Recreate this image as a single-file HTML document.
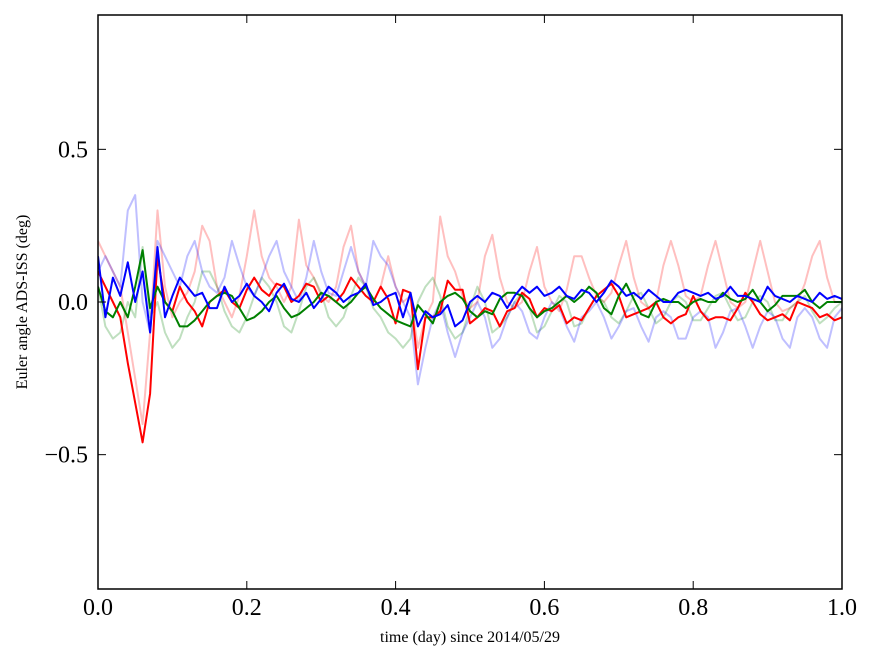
<!DOCTYPE html>
<html><head><meta charset="utf-8"><style>
body{margin:0;background:#fff;}
svg text{font-family:"Liberation Serif",serif;}
</style></head><body>
<svg id="chart" width="875" height="662" viewBox="0 0 875 662"></svg>
<script>
const tValues=[];for(let i=0;i<=100;i++)tValues.push(i/100);
const redMain=[0.1,0.05,0.0,-0.05,-0.2,-0.33,-0.46,-0.3,0.15,0.0,-0.03,0.05,0.0,-0.03,-0.08,0.0,0.02,0.04,0.0,-0.02,0.04,0.08,0.04,0.02,0.06,0.05,0.0,0.02,0.06,0.05,0.0,0.02,0.0,0.03,0.08,0.05,0.02,0.0,0.05,0.01,-0.07,0.04,0.03,-0.22,-0.05,-0.05,-0.03,0.07,0.04,0.04,-0.07,-0.05,-0.02,-0.03,-0.08,-0.03,-0.02,0.03,0.01,-0.05,-0.02,-0.03,-0.01,-0.07,-0.05,-0.06,-0.02,0.02,0.04,0.06,0.02,-0.05,-0.04,-0.03,-0.02,0.0,-0.05,-0.07,-0.05,-0.04,0.02,-0.03,-0.06,-0.05,-0.05,-0.06,-0.02,0.03,0.0,-0.04,-0.06,-0.05,-0.04,-0.06,0.0,-0.01,-0.02,-0.05,-0.04,-0.06,-0.05];
const greenMain=[0.05,-0.03,-0.05,0.0,-0.05,0.05,0.17,-0.02,0.05,0.0,-0.03,-0.08,-0.08,-0.06,-0.03,0.0,0.02,0.03,0.02,-0.02,-0.06,-0.05,-0.03,0.0,0.02,-0.02,-0.05,-0.04,-0.02,0.0,0.03,0.02,0.0,-0.02,0.0,0.03,0.05,0.01,-0.02,-0.04,-0.06,-0.07,-0.08,-0.01,-0.04,-0.07,0.0,0.02,0.03,0.01,-0.03,-0.05,-0.03,-0.04,0.01,0.03,0.03,0.02,-0.02,-0.05,-0.03,-0.02,0.0,0.02,0.0,0.02,0.05,0.03,-0.02,-0.04,0.02,0.06,0.01,-0.04,-0.05,0.0,0.01,0.0,0.0,-0.02,0.0,0.01,0.0,0.0,0.03,0.01,0.0,0.01,0.04,0.0,-0.03,-0.01,0.02,0.02,0.02,0.04,0.0,-0.02,0.0,0.0,0.0];
const blueMain=[0.15,-0.05,0.08,0.02,0.13,0.0,0.1,-0.1,0.18,-0.05,0.02,0.08,0.05,0.02,0.03,-0.02,-0.02,0.05,0.0,0.02,0.06,0.02,0.0,-0.03,0.03,0.06,0.01,0.0,0.03,-0.02,0.01,0.05,0.03,0.0,0.02,0.03,0.06,-0.01,0.0,0.02,0.03,-0.05,0.03,-0.08,-0.03,-0.05,-0.04,-0.01,-0.08,-0.06,0.0,0.02,0.0,0.03,0.02,-0.02,0.02,0.05,0.03,0.05,0.02,0.03,0.05,0.02,0.01,0.04,0.03,0.0,0.03,0.07,0.05,0.02,0.03,0.01,0.04,0.02,0.0,0.0,0.03,0.04,0.03,0.02,0.03,0.01,0.02,0.05,0.02,0.02,0.01,0.0,0.05,0.02,0.01,0.0,0.02,0.01,0.0,0.03,0.01,0.02,0.01];
const redFaint=[0.2,0.15,0.1,0.05,-0.1,-0.25,-0.4,-0.1,0.3,0.05,-0.05,0.0,0.03,0.1,0.25,0.2,0.05,0.0,-0.05,0.02,0.15,0.3,0.15,0.08,0.05,0.0,0.05,0.27,0.12,0.08,0.02,0.0,0.05,0.18,0.25,0.1,0.05,0.0,0.05,0.15,0.05,0.0,0.02,-0.15,-0.05,0.0,0.28,0.15,0.1,0.02,-0.02,0.0,0.15,0.22,0.08,0.0,-0.02,0.0,0.1,0.18,0.05,0.0,-0.03,0.04,0.15,0.15,0.08,0.02,0.0,0.03,0.12,0.2,0.08,0.0,-0.02,0.0,0.12,0.2,0.12,0.02,0.0,0.02,0.12,0.2,0.1,0.0,-0.02,0.0,0.1,0.2,0.1,0.0,-0.03,-0.02,0.0,0.06,0.15,0.2,0.08,0.0,0.0];
const greenFaint=[0.05,-0.08,-0.12,-0.1,0.0,-0.05,0.18,-0.05,0.0,-0.1,-0.15,-0.12,-0.05,0.0,0.1,0.1,0.05,-0.03,-0.08,-0.1,-0.05,0.02,0.08,0.05,0.0,-0.08,-0.1,-0.03,0.05,0.08,0.03,-0.05,-0.08,-0.05,0.02,0.08,0.05,-0.02,-0.05,-0.1,-0.12,-0.15,-0.12,0.0,0.05,0.08,0.02,-0.08,-0.12,-0.1,-0.02,0.05,0.0,-0.1,-0.08,-0.05,0.0,0.03,-0.02,-0.1,-0.08,-0.03,0.02,0.0,-0.08,-0.07,-0.02,0.02,0.0,-0.05,-0.07,-0.03,0.02,0.03,-0.02,-0.07,-0.05,0.0,0.02,0.0,-0.06,-0.06,-0.02,0.02,0.03,-0.02,-0.06,-0.05,0.0,0.02,0.0,-0.06,-0.06,-0.02,0.0,0.02,-0.03,-0.07,-0.05,-0.02,0.0];
const blueFaint=[0.1,0.15,0.1,0.05,0.3,0.35,0.0,-0.1,0.2,0.15,0.1,0.05,0.15,0.2,0.1,0.05,0.03,0.08,0.2,0.12,0.05,0.02,0.08,0.15,0.2,0.1,0.05,0.0,0.08,0.2,0.1,0.03,0.02,0.1,0.18,0.1,0.05,0.2,0.15,0.12,0.05,0.0,-0.05,-0.27,-0.15,-0.05,0.0,-0.1,-0.18,-0.1,-0.05,0.0,-0.05,-0.15,-0.12,-0.05,0.0,-0.03,-0.1,-0.12,-0.05,0.0,-0.02,-0.08,-0.13,-0.05,-0.03,0.0,-0.05,-0.12,-0.08,-0.03,-0.02,-0.08,-0.13,-0.05,-0.03,-0.05,-0.12,-0.12,-0.05,-0.03,-0.05,-0.15,-0.1,-0.03,-0.02,-0.08,-0.15,-0.08,-0.03,-0.05,-0.12,-0.15,-0.05,-0.02,-0.05,-0.12,-0.15,-0.05,-0.02];
const xTicks=[0,0.2,0.4,0.6,0.8,1.0];
const xTickLabels=["0.0","0.2","0.4","0.6","0.8","1.0"];
const yTicks=[-0.5,0,0.5];
const yTickLabels=["\u22120.5","0.0","0.5"];

const L=98,R=842,T=15,B=589,YMIN=-0.94,YMAX=0.94;
const xs=v=>L+(v-0)/(1-0)*(R-L);
const ys=v=>B-(v-YMIN)/(YMAX-YMIN)*(B-T);
const svg=document.getElementById('chart');
const NS='http://www.w3.org/2000/svg';
function mk(tag,attrs){const e=document.createElementNS(NS,tag);for(const k in attrs)e.setAttribute(k,attrs[k]);svg.appendChild(e);return e;}
const clip=mk('clipPath',{id:'pc'});
const cr=document.createElementNS(NS,'rect');cr.setAttribute('x',L);cr.setAttribute('y',T);cr.setAttribute('width',R-L);cr.setAttribute('height',B-T);clip.appendChild(cr);
function line(arr,color,op,name){
  const d=arr.map((v,i)=>(i?'L':'M')+xs(tValues[i]).toFixed(1)+','+ys(v).toFixed(1)).join('');
  const p=mk('path',{d:d,fill:'none',stroke:color,'stroke-width':2,'stroke-opacity':op,'clip-path':'url(#pc)','stroke-linejoin':'round'});
  
  
}
line(redFaint,'#ff0000',0.25,'series-red-faint');
line(greenFaint,'#008000',0.25,'series-green-faint');
line(blueFaint,'#0000ff',0.25,'series-blue-faint');
line(redMain,'#ff0000',1,'series-red');
line(greenMain,'#008000',1,'series-green');
line(blueMain,'#0000ff',1,'series-blue');
const frame=mk('rect',{x:L,y:T,width:R-L,height:B-T,fill:'none',stroke:'#000','stroke-width':1.5});


xTicks.forEach((v,i)=>{
  const x=xs(v);
  mk('line',{x1:x,y1:B,x2:x,y2:B-8,stroke:'#000','stroke-width':1});
  mk('line',{x1:x,y1:T,x2:x,y2:T+8,stroke:'#000','stroke-width':1});
  const t=mk('text',{x:x,y:615,'font-size':24,'text-anchor':'middle'});
  t.textContent=xTickLabels[i];
  
  
});
yTicks.forEach((v,i)=>{
  const y=ys(v);
  mk('line',{x1:L,y1:y,x2:L+8,y2:y,stroke:'#000','stroke-width':1});
  mk('line',{x1:R,y1:y,x2:R-8,y2:y,stroke:'#000','stroke-width':1});
  const t=mk('text',{x:88,y:y+8,'font-size':24,'text-anchor':'end'});
  t.textContent=yTickLabels[i];
  
  
});
const xl=mk('text',{x:470,y:642,'font-size':16,'text-anchor':'middle'});
xl.textContent='time (day) since 2014/05/29';


const yl=mk('text',{x:0,y:0,'font-size':16,'text-anchor':'middle',transform:'translate(27,302) rotate(-90)'});
yl.textContent='Euler angle ADS-ISS (deg)';


</script>
</body></html>
